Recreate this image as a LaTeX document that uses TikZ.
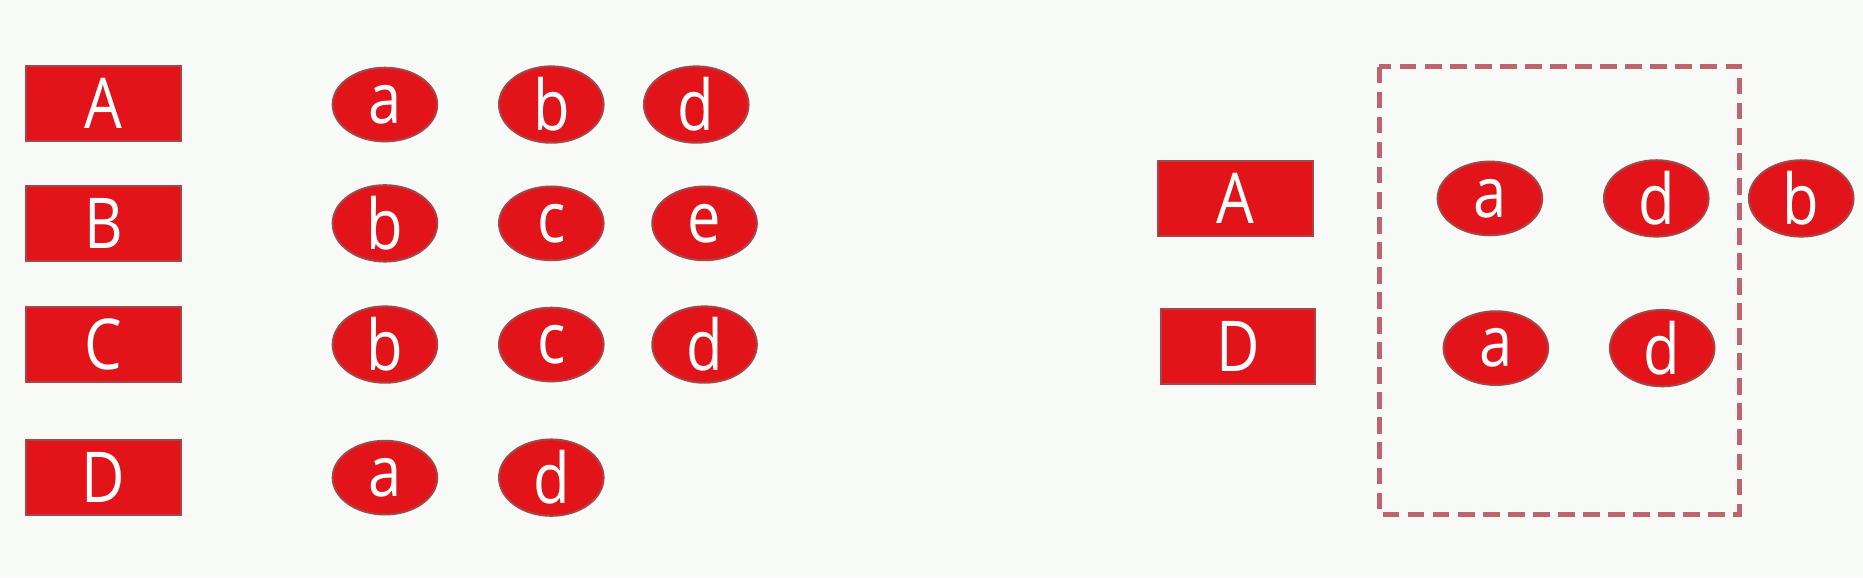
\documentclass[tikz,border=0pt]{standalone}
\usepackage{fontspec}
\setmainfont{Open Sans}[FakeStretch=0.85]
\usetikzlibrary{shapes.geometric}
\definecolor{boxred}{RGB}{226,20,26}
\definecolor{edgered}{RGB}{165,70,72}
\definecolor{dashred}{RGB}{190,100,108}
\definecolor{bgcol}{RGB}{248,250,247}
\begin{document}
\begin{tikzpicture}[x=0.025cm,y=-0.025cm,
  keybox/.style={rectangle,fill=boxred,draw=edgered,line width=1.2pt,minimum width=3.25cm,minimum height=1.58cm,inner sep=0pt,text=white,font=\fontsize{42}{48}\selectfont},
  itemov/.style={ellipse,fill=boxred,draw=edgered,line width=1.2pt,minimum width=2.2cm,minimum height=1.55cm,inner sep=0pt,text=white,font=\fontsize{42}{48}\selectfont},
  groupbox/.style={draw=dashred,line width=2.6pt,dash pattern=on 10pt off 5pt}]
\path[fill=bgcol,use as bounding box] (0,0) rectangle (1568,486);
% left keys
\node[keybox] (LA) at (87,87) {A};
\node[keybox] (LB) at (87,188) {B};
\node[keybox] (LC) at (87,290) {C};
\node[keybox] (LD) at (87,402) {D};
% left items
\node[itemov] (a1) at (324,88) {a};
\node[itemov] (b1) at (464,88) {b};
\node[itemov] (d1) at (586,88) {d};
\node[itemov] (b2) at (324,188) {b};
\node[itemov] (c2) at (464,188) {c};
\node[itemov] (e2) at (593,188) {e};
\node[itemov] (b3) at (324,290) {b};
\node[itemov] (c3) at (464,290) {c};
\node[itemov] (d3) at (593,290) {d};
\node[itemov] (a4) at (324,402) {a};
\node[itemov] (d4) at (464,402) {d};
% right side
\node[keybox] (RA) at (1040,167) {A};
\node[keybox] (RD) at (1042,292) {D};
\node[itemov] (ra1) at (1254,167) {a};
\node[itemov] (rd1) at (1394,167) {d};
\node[itemov] (rb1) at (1516,167) {b};
\node[itemov] (ra2) at (1259,293) {a};
\node[itemov] (rd2) at (1399,293) {d};
\draw[groupbox] (1161,56) rectangle (1464,433);
\end{tikzpicture}
\end{document}
